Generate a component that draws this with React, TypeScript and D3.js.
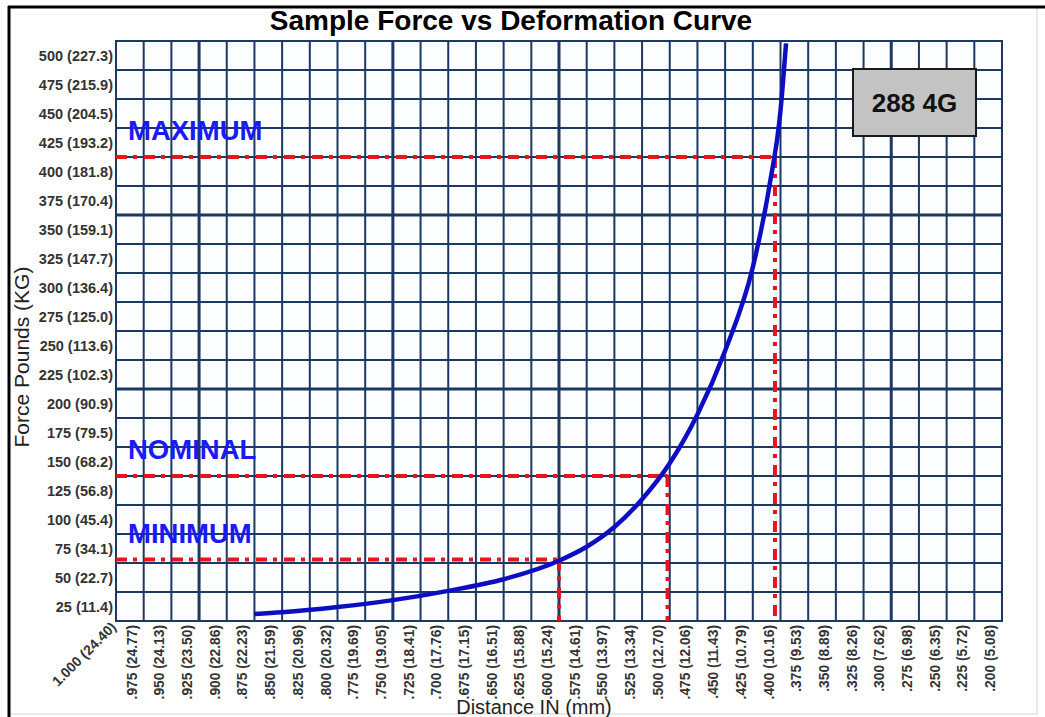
import { useEffect, useRef } from 'react'
import * as d3 from 'd3'

// distance (inches) at each labelled column, and its printed label
const distanceIn = [
  0.975, 0.95, 0.925, 0.9, 0.875, 0.85, 0.825, 0.8, 0.775, 0.75, 0.725, 0.7, 0.675, 0.65, 0.625, 0.6,
  0.575, 0.55, 0.525, 0.5, 0.475, 0.45, 0.425, 0.4, 0.375, 0.35, 0.325, 0.3, 0.275, 0.25, 0.225, 0.2,
]
const distanceLabels = [
  '.975 (24.77)', '.950 (24.13)', '.925 (23.50)', '.900 (22.86)', '.875 (22.23)', '.850 (21.59)',
  '.825 (20.96)', '.800 (20.32)', '.775 (19.69)', '.750 (19.05)', '.725 (18.41)', '.700 (17.76)',
  '.675 (17.15)', '.650 (16.51)', '.625 (15.88)', '.600 (15.24)', '.575 (14.61)', '.550 (13.97)',
  '.525 (13.34)', '.500 (12.70)', '.475 (12.06)', '.450 (11.43)', '.425 (10.79)', '.400 (10.16)',
  '.375 (9.53)', '.350 (8.89)', '.325 (8.26)', '.300 (7.62)', '.275 (6.98)', '.250 (6.35)',
  '.225 (5.72)', '.200 (5.08)',
]
const firstDistance = { value: 1.0, label: '1.000 (24.40)' }

const forceLb = [500, 475, 450, 425, 400, 375, 350, 325, 300, 275, 250, 225, 200, 175, 150, 125, 100, 75, 50, 25]
const forceLabels = [
  '500 (227.3)', '475 (215.9)', '450 (204.5)', '425 (193.2)', '400 (181.8)', '375 (170.4)',
  '350 (159.1)', '325 (147.7)', '300 (136.4)', '275 (125.0)', '250 (113.6)', '225 (102.3)',
  '200 (90.9)', '175 (79.5)', '150 (68.2)', '125 (56.8)', '100 (45.4)', '75 (34.1)', '50 (22.7)',
  '25 (11.4)',
]

// heavier grid lines seen on the sheet
const heavyX = [0.925, 0.75, 0.6, 0.3]
const heavyY = [200, 350]

// force vs deformation curve
const curveDist = [0.875, 0.85, 0.8, 0.75, 0.7, 0.65, 0.6, 0.575, 0.55, 0.525, 0.5, 0.475, 0.45, 0.425, 0.41, 0.4, 0.395]
const curveForce = [6, 7.5, 12, 18, 26, 36, 52, 64, 81, 105, 136, 178, 233, 305, 375, 440, 498]

// spec limits
const limitNames = ['MAXIMUM', 'NOMINAL', 'MINIMUM']
const limitForce = [400, 125, 53]
const limitDist = [0.405, 0.502, 0.6]

const partName = '288 4G'

const W = 1045
const H = 717
const GRID = '#1b3962'
const FONT = 'Arial, "Liberation Sans", sans-serif'

export default function App() {
  const ref = useRef<SVGSVGElement>(null)

  useEffect(() => {
    const el = ref.current
    if (!el) return
    const svg = d3.select(el)
    svg.selectAll('*').remove()

    const m = { left: 116, right: 1002, top: 41, bottom: 621 }
    const x = d3.scaleLinear().domain([1.0, 0.2]).range([m.left, m.right])
    const y = d3.scaleLinear().domain([0, 500]).range([m.bottom, m.top])
    const stepX = 0.025
    const stepY = 25

    svg.append('rect').attr('width', W).attr('height', H).attr('fill', '#fff')

    // frame
    svg.append('rect')
      .attr('x', 9).attr('y', 7).attr('width', 1028).attr('height', 707)
      .attr('fill', 'none').attr('stroke', '#e2e2e2').attr('stroke-width', 1.5)
    svg.append('line').attr('x1', 9).attr('x2', 9).attr('y1', 6).attr('y2', H)
      .attr('stroke', '#000').attr('stroke-width', 3)
    svg.append('line').attr('x1', 8).attr('x2', W).attr('y1', 7).attr('y2', 7)
      .attr('stroke', '#000').attr('stroke-width', 3)

    svg.append('rect')
      .attr('x', m.left).attr('y', m.top)
      .attr('width', m.right - m.left).attr('height', m.bottom - m.top)
      .attr('fill', '#fbfdff')

    const allX = [firstDistance.value, ...distanceIn]
    const allY = [0, ...forceLb.slice().reverse()]
    const grid = svg.append('g')
    grid.selectAll('line.vx')
      .data(allX)
      .join('line')
      .attr('class', 'vx')
      .attr('x1', (d) => x(d)).attr('x2', (d) => x(d))
      .attr('y1', m.top - 1).attr('y2', m.bottom + 1)
      .attr('stroke', GRID)
      .attr('stroke-width', (d) => (heavyX.some((h) => Math.abs(h - d) < 1e-6) ? 3 : 2))
    grid.selectAll('line.hy')
      .data(allY)
      .join('line')
      .attr('class', 'hy')
      .attr('x1', m.left - 1).attr('x2', m.right + 1)
      .attr('y1', (d) => y(d)).attr('y2', (d) => y(d))
      .attr('stroke', GRID)
      .attr('stroke-width', (d) => (heavyY.includes(d) ? 3 : 2))

    // y labels sit in the middle of the cell below their value
    svg.append('g')
      .selectAll('text')
      .data(forceLb)
      .join('text')
      .attr('x', m.left - 3)
      .attr('y', (d) => y(d - stepY / 2))
      .attr('dy', '0.35em')
      .attr('text-anchor', 'end')
      .attr('fill', '#333')
      .style('font-family', FONT)
      .style('font-size', '14.5px')
      .style('font-weight', '700')
      .text((_, i) => forceLabels[i])

    // x labels, vertical, centred in the cell to the left of their value
    svg.append('g')
      .selectAll('text')
      .data(distanceIn)
      .join('text')
      .attr('transform', (d) => `translate(${x(d + stepX / 2) + 2},${m.bottom + 4}) rotate(-90)`)
      .attr('dy', '0.35em')
      .attr('text-anchor', 'end')
      .attr('fill', '#333')
      .style('font-family', FONT)
      .style('font-size', '13.8px')
      .style('font-weight', '700')
      .text((_, i) => distanceLabels[i])

    svg.append('text')
      .attr('transform', `translate(${x(firstDistance.value) + 1},${m.bottom + 7}) rotate(-45)`)
      .attr('text-anchor', 'end')
      .attr('fill', '#333')
      .style('font-family', FONT)
      .style('font-size', '14px')
      .style('font-weight', '700')
      .text(firstDistance.label)

    // limit lines
    const red = '#e8141c'
    const limits = svg.append('g')
    limitNames.forEach((name, i) => {
      const yy = y(limitForce[i])
      const xx = x(limitDist[i])
      limits.append('line')
        .attr('x1', m.left).attr('x2', xx).attr('y1', yy).attr('y2', yy)
        .attr('stroke', red).attr('stroke-width', 4).attr('stroke-dasharray', '11 6 4 7')
      limits.append('line')
        .attr('x1', xx).attr('x2', xx).attr('y1', yy).attr('y2', m.bottom)
        .attr('stroke', red).attr('stroke-width', 4).attr('stroke-dasharray', '11 6 4 7')
      limits.append('text')
        .attr('x', m.left + 12)
        .attr('y', yy - 17)
        .attr('fill', '#1a1af8')
        .style('font-family', FONT)
        .style('font-size', '27.5px')
        .style('font-weight', '700')
        .text(name)
    })

    // curve
    const pts = curveDist.map((d, i) => [d, curveForce[i]] as [number, number])
    const line = d3
      .line<[number, number]>()
      .x((d) => x(d[0]))
      .y((d) => y(d[1]))
      .curve(d3.curveMonotoneX)
    svg.append('path')
      .attr('d', line(pts) || '')
      .attr('fill', 'none')
      .attr('stroke', '#0d0dc2')
      .attr('stroke-width', 4.5)

    // part box
    svg.append('rect')
      .attr('x', 853).attr('y', 69).attr('width', 123).attr('height', 67)
      .attr('fill', '#c3c3c3').attr('stroke', '#1a1a1a').attr('stroke-width', 2)
    svg.append('text')
      .attr('x', 914.5).attr('y', 103)
      .attr('dy', '0.35em')
      .attr('text-anchor', 'middle')
      .attr('fill', '#111')
      .style('font-family', FONT)
      .style('font-size', '26px')
      .style('font-weight', '700')
      .text(partName)

    // titles
    svg.append('text')
      .attr('x', 511).attr('y', 30)
      .attr('text-anchor', 'middle')
      .attr('fill', '#000')
      .style('font-family', FONT)
      .style('font-size', '28px')
      .style('font-weight', '700')
      .text('Sample Force vs Deformation Curve')

    svg.append('text')
      .attr('transform', `translate(29,357) rotate(-90)`)
      .attr('text-anchor', 'middle')
      .attr('fill', '#222')
      .style('font-family', FONT)
      .style('font-size', '21px')
      .text('Force Pounds (KG)')

    svg.append('text')
      .attr('x', 534).attr('y', 714)
      .attr('text-anchor', 'middle')
      .attr('fill', '#222')
      .style('font-family', FONT)
      .style('font-size', '20px')
      .text('Distance IN (mm)')
  }, [])

  return (
    <svg
      ref={ref}
      width={W}
      height={H}
      viewBox={`0 0 ${W} ${H}`}
      style={{ position: 'absolute', left: 0, top: 0, display: 'block' }}
    />
  )
}
